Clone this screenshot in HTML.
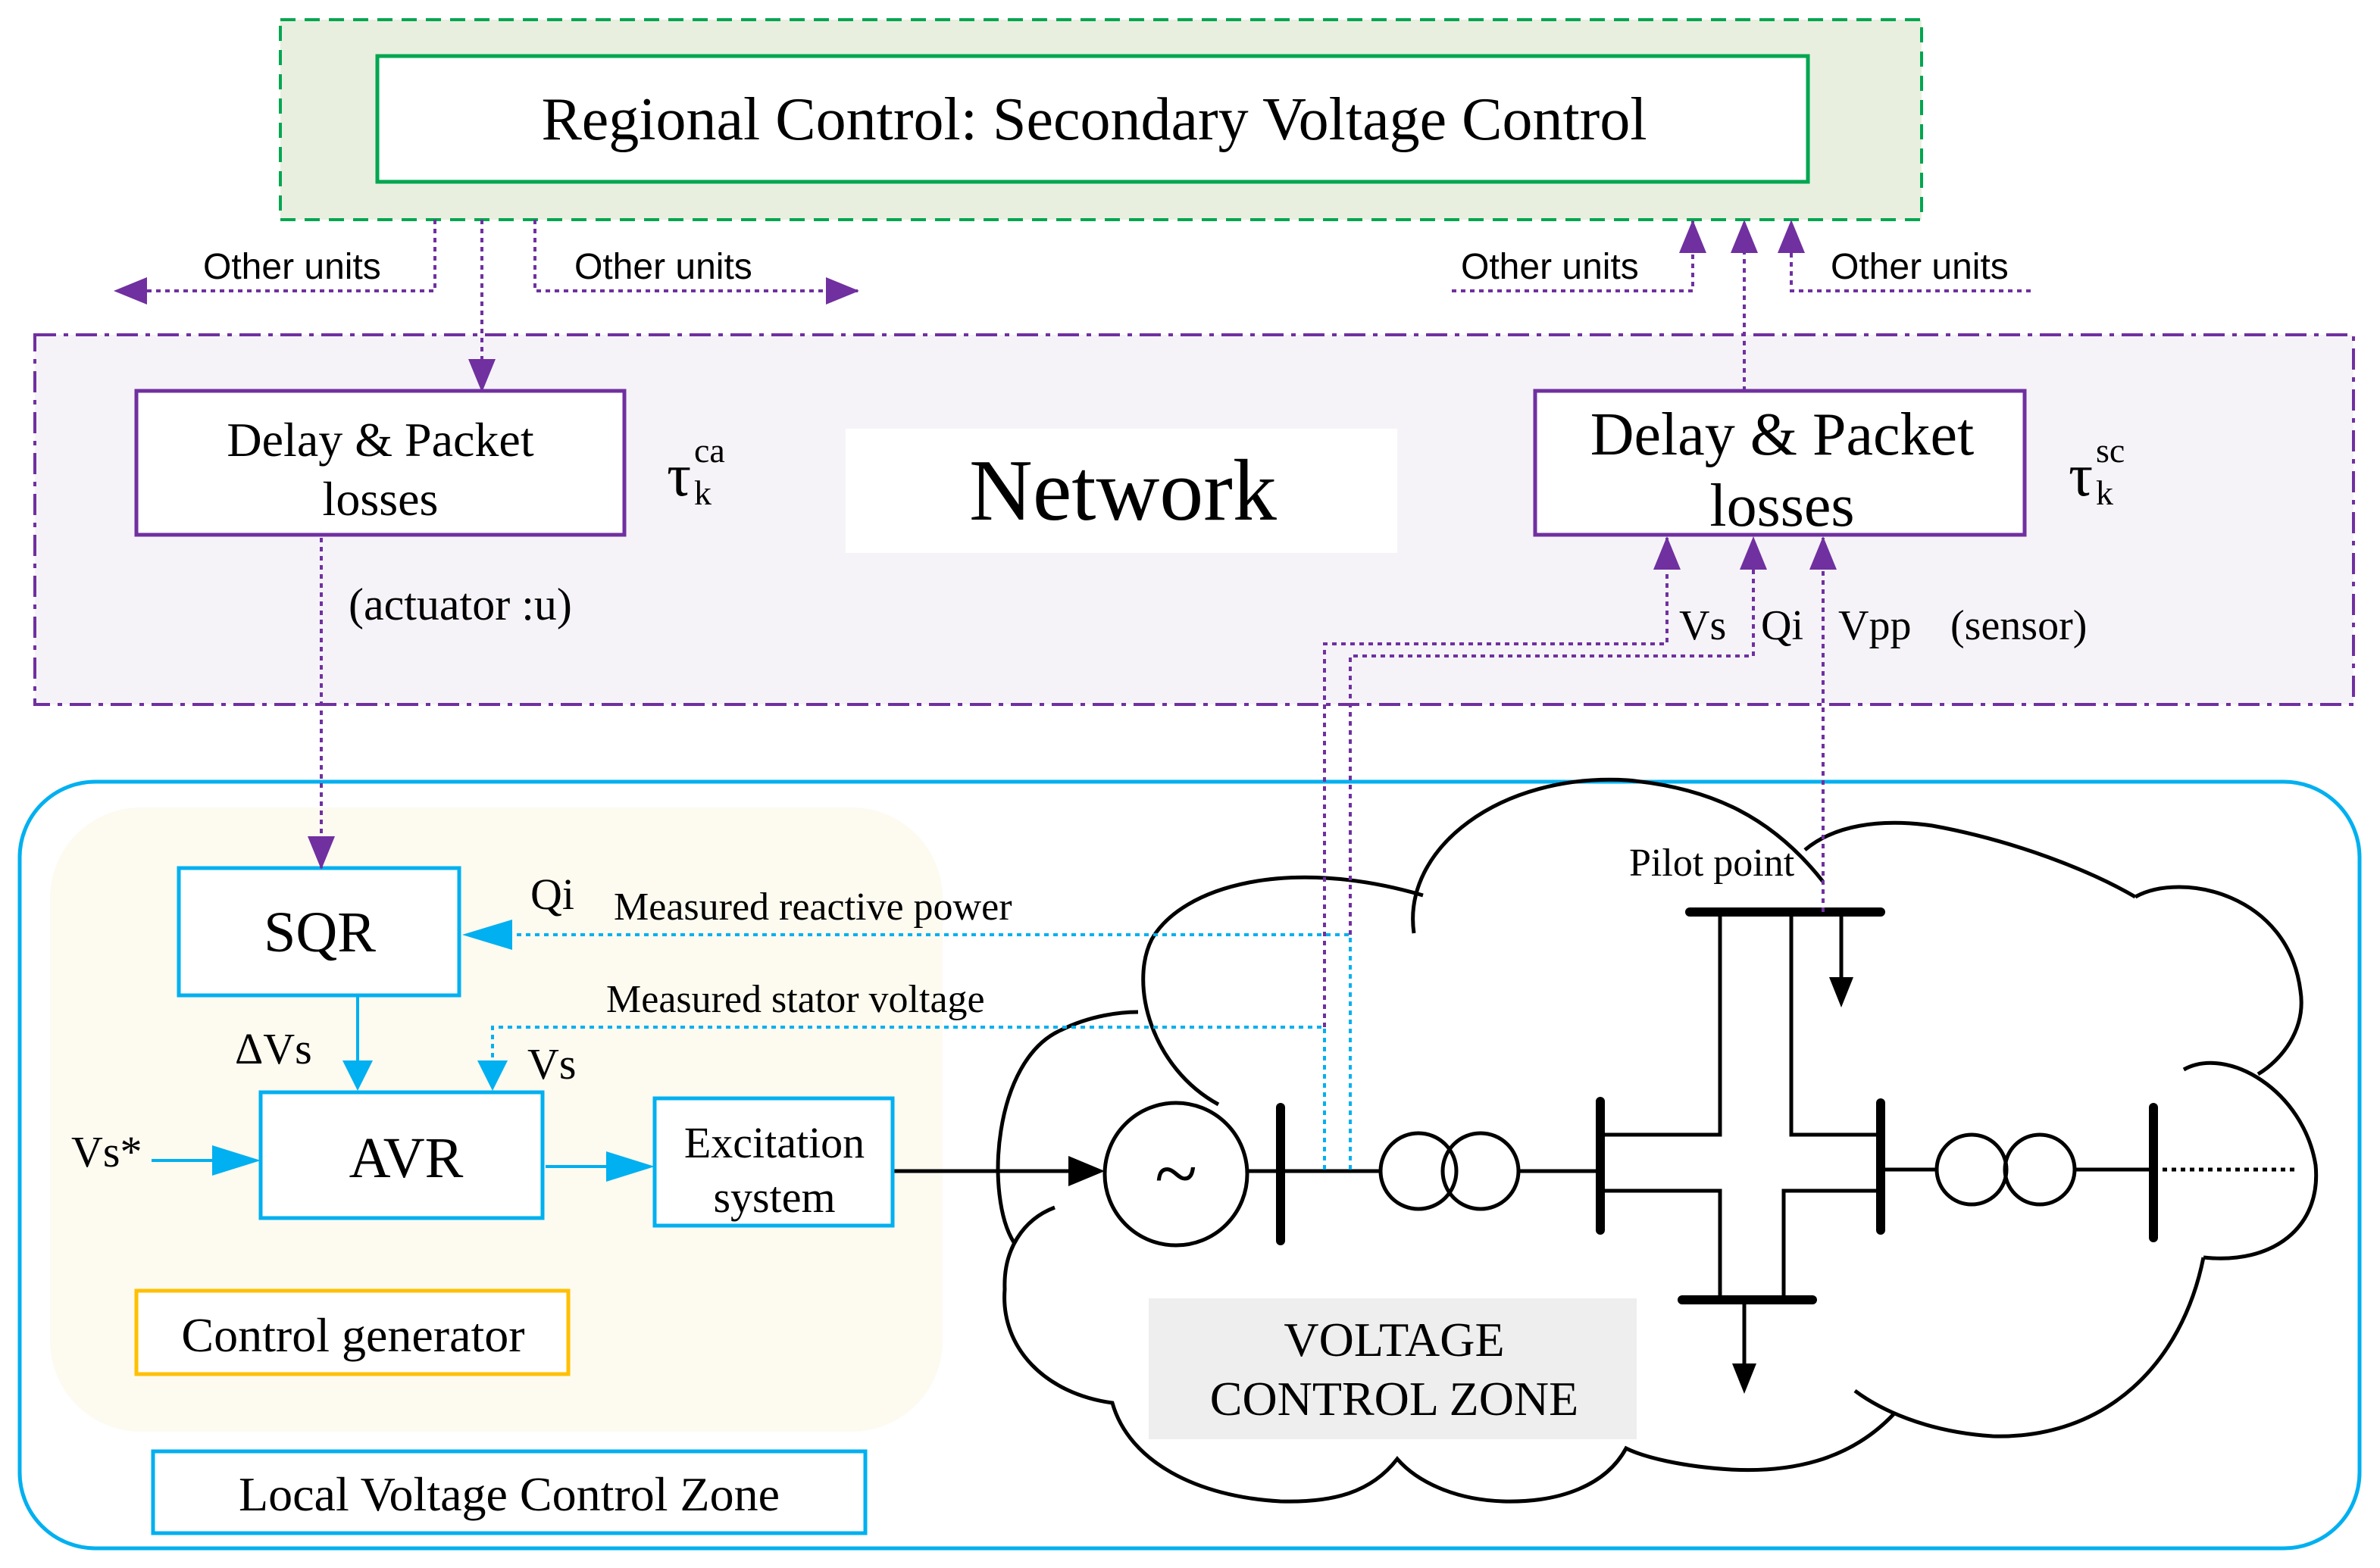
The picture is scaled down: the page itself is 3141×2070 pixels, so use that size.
<!DOCTYPE html>
<html><head><meta charset="utf-8"><style>html,body{margin:0;padding:0;background:#fff}svg{display:block}</style></head>
<body>
<svg width="3141" height="2070" viewBox="0 0 1570.5 1035" xmlns="http://www.w3.org/2000/svg" font-family="Liberation Serif, serif">
<defs>
<marker id="pa" markerWidth="24" markerHeight="20" refX="21" refY="9" orient="auto" markerUnits="userSpaceOnUse" viewBox="0 0 24 18"><path d="M0,0 L22,9 L0,18 z" fill="#7030a0"/></marker>
</defs>
<!-- regional -->
<rect x="185" y="13" width="1083" height="132" fill="#e8efdf" stroke="#00a650" stroke-width="2" stroke-dasharray="10,6"/>
<rect x="249" y="37" width="944" height="83" fill="#fff" stroke="#00a650" stroke-width="2.5"/>
<text x="722" y="92" font-size="40" text-anchor="middle">Regional Control: Secondary Voltage Control</text>
<!-- network -->
<rect x="23" y="221" width="1530" height="244" fill="#f5f3f8" stroke="#7030a0" stroke-width="2" stroke-dasharray="14,5,3,5"/>
<rect x="90" y="258" width="322" height="95" fill="#fff" stroke="#7030a0" stroke-width="2.5"/>
<text x="251" y="301" font-size="32" text-anchor="middle">Delay &amp; Packet</text>
<text x="251" y="340" font-size="32" text-anchor="middle">losses</text>
<text x="440" y="327" font-size="40">τ</text><text x="458" y="333" font-size="23">k</text><text x="458" y="305" font-size="23">ca</text>
<rect x="558" y="283" width="364" height="82" fill="#fff"/>
<text x="741" y="343" font-size="58" text-anchor="middle">Network</text>
<rect x="1013" y="258" width="323" height="95" fill="#fff" stroke="#7030a0" stroke-width="2.5"/>
<text x="1176" y="300" font-size="40" text-anchor="middle">Delay &amp; Packet</text>
<text x="1176" y="347" font-size="40" text-anchor="middle">losses</text>
<text x="1365" y="327" font-size="40">τ</text><text x="1383" y="333" font-size="23">k</text><text x="1383" y="305" font-size="23">sc</text>
<text x="230" y="409" font-size="30">(actuator :u)</text>
<g font-size="28"><text x="1108" y="422">Vs</text><text x="1162" y="422">Qi</text><text x="1213" y="422">Vpp</text><text x="1287" y="422">(sensor)</text></g>
<g font-family="Liberation Sans, sans-serif" font-size="24">
<text x="134" y="184">Other units</text><text x="379" y="184">Other units</text>
<text x="964" y="184">Other units</text><text x="1208" y="184">Other units</text></g>
<!-- local zone -->
<rect x="13" y="516" width="1544" height="506" rx="50" fill="none" stroke="#00b0f0" stroke-width="2.5"/>
<rect x="33" y="533" width="589" height="412" rx="60" fill="#fdfaf0"/>
<!-- cloud -->
<g stroke="#000" stroke-width="2.5" fill="none">
<path d="M804,729 C760,705 745,650 760,620 C780,585 850,565 939,591"/>
<path d="M933,616 C925,560 990,510 1074,515 C1130,520 1170,540 1203,582"/>
<path d="M1191,561 C1210,545 1240,540 1275,545 C1330,555 1380,575 1409,592"/>
<path d="M1409,592 C1440,575 1510,590 1518,654 C1522,680 1505,700 1490,709"/>
<path d="M1441,706 C1470,690 1520,720 1528,769 C1532,810 1500,835 1454,830"/>
<path d="M1454,830 C1440,900 1390,950 1315,948 C1270,945 1240,930 1224,918"/>
<path d="M1250,933 C1220,965 1180,972 1142,970 C1110,968 1085,962 1073,956 C1060,980 1030,992 992,991 C960,990 935,978 922,963 C905,985 880,992 845,991 C790,988 745,965 734,926 C690,920 660,890 663,851 C662,825 675,805 696,797"/>
<path d="M669,820 C650,790 655,700 700,680 C720,670 740,668 751,668"/>
</g>
<!-- network elements -->
<g stroke="#000" stroke-width="2.5" fill="none">
<circle cx="776" cy="775" r="47"/>
<line x1="823" y1="773" x2="911" y2="773"/><line x1="1002" y1="773" x2="1056" y2="773"/>
<circle cx="936" cy="773" r="25"/><circle cx="977" cy="773" r="25"/>
<path d="M1056,749 H1135 V602 M1182,602 V749 H1241 M1056,786 H1135 V856 M1241,786 H1177 V856"/>
<line x1="1241" y1="772" x2="1279" y2="772"/><circle cx="1301" cy="772" r="23"/><circle cx="1346" cy="772" r="23"/>
<line x1="1369" y1="772" x2="1421" y2="772"/>
<line x1="1421" y1="772" x2="1515" y2="772" stroke-dasharray="3,3"/>
<path d="M1215,602 V650 M1151,858 V905"/>
<path d="M590,773 H715"/>
</g>
<text x="776" y="792" font-size="52" text-anchor="middle">~</text>
<path d="M705,763 L729,773 L705,783 z M1207,645 L1215,665 L1223,645 z M1143,900 L1151,920 L1159,900 z" fill="#000"/>
<g stroke="#000" stroke-width="6" stroke-linecap="round">
<line x1="845" y1="731" x2="845" y2="819"/><line x1="1056" y1="727" x2="1056" y2="812"/>
<line x1="1241" y1="728" x2="1241" y2="812"/><line x1="1421" y1="731" x2="1421" y2="817"/>
<line x1="1115" y1="602" x2="1241" y2="602"/><line x1="1110" y1="858" x2="1196" y2="858"/>
</g>
<text x="1075" y="578" font-size="26">Pilot point</text>
<rect x="758" y="857" width="322" height="93" fill="#eeeeee"/>
<text x="920" y="895" font-size="32" text-anchor="middle">VOLTAGE</text>
<text x="920" y="934" font-size="32" text-anchor="middle">CONTROL ZONE</text>
<!-- control blocks -->
<g fill="#fff" stroke="#00b0f0" stroke-width="2.5">
<rect x="118" y="573" width="185" height="84"/><rect x="172" y="721" width="186" height="83"/>
<rect x="432" y="725" width="157" height="84"/><rect x="101" y="958" width="470" height="54"/>
</g>
<rect x="90" y="852" width="285" height="55" fill="#fff" stroke="#ffc000" stroke-width="2.5"/>
<text x="211" y="628" font-size="38" text-anchor="middle">SQR</text>
<text x="268" y="777" font-size="38" text-anchor="middle">AVR</text>
<text x="511" y="764" font-size="29" text-anchor="middle">Excitation</text>
<text x="511" y="800" font-size="29" text-anchor="middle">system</text>
<text x="233" y="892" font-size="32" text-anchor="middle">Control generator</text>
<text x="336" y="997" font-size="32" text-anchor="middle">Local Voltage Control Zone</text>
<g font-size="29"><text x="350" y="600">Qi</text><text x="155" y="702">ΔVs</text><text x="348" y="712">Vs</text><text x="47" y="770">Vs*</text></g>
<text x="405" y="607" font-size="26">Measured reactive power</text>
<text x="400" y="668" font-size="26">Measured stator voltage</text>
<g stroke="#00b0f0" stroke-width="2" fill="none">
<path d="M891,772 V617 H330" stroke-dasharray="3,3"/>
<path d="M874,772 V678 H325 V710" stroke-dasharray="3,3"/>
<path d="M236,657 V710 M100,766 H160 M360,770 H420"/>
</g>
<g fill="#00b0f0">
<path d="M305,617 L338,607 L338,627 z"/><path d="M315,700 L335,700 L325,720 z"/>
<path d="M226,700 L246,700 L236,720 z"/><path d="M172,766 L140,756 L140,776 z"/><path d="M432,770 L400,760 L400,780 z"/>
</g>
<!-- purple connectors -->
<g stroke="#7030a0" stroke-width="2" stroke-dasharray="3,3" fill="none">
<path d="M287,145 V192 H76" marker-end="url(#pa)"/>
<path d="M353,145 V192 H566" marker-end="url(#pa)"/>
<path d="M318,145 V258" marker-end="url(#pa)"/>
<path d="M958,192 H1117 V146" marker-end="url(#pa)"/>
<path d="M1340,192 H1182 V146" marker-end="url(#pa)"/>
<path d="M1151,258 V146" marker-end="url(#pa)"/>
<path d="M212,355 V573" marker-end="url(#pa)"/>
<path d="M874,678 V425 H1100 V355" marker-end="url(#pa)"/>
<path d="M891,617 V433 H1157 V355" marker-end="url(#pa)"/>
<path d="M1203,602 V355" marker-end="url(#pa)"/>
</g>
</svg>
</body></html>
